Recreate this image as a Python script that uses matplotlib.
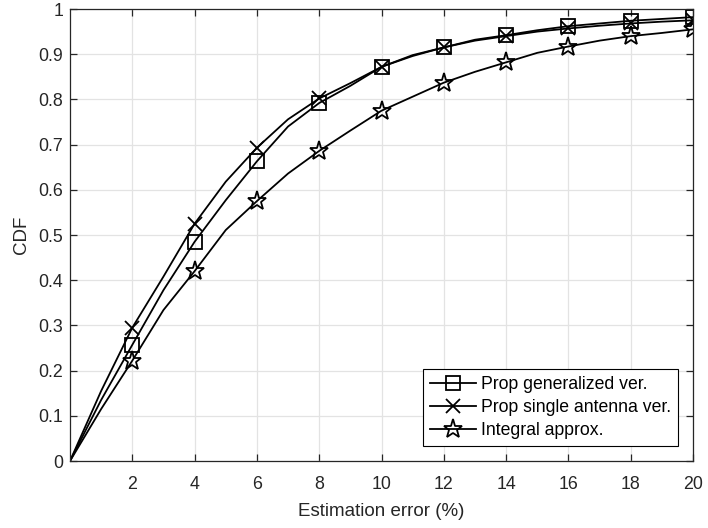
import matplotlib
matplotlib.use("Agg")
import matplotlib.pyplot as plt

x = list(range(0, 21))
prop_general = [0, 0.135, 0.257, 0.378, 0.485, 0.577, 0.663, 0.740, 0.792, 0.830, 0.872,
                0.896, 0.915, 0.932, 0.942, 0.953, 0.962, 0.968, 0.974, 0.978, 0.982]
prop_single = [0, 0.155, 0.295, 0.408, 0.525, 0.618, 0.693, 0.756, 0.802, 0.836, 0.872,
               0.898, 0.915, 0.930, 0.940, 0.950, 0.957, 0.963, 0.968, 0.972, 0.975]
integral = [0, 0.115, 0.222, 0.334, 0.420, 0.511, 0.575, 0.636, 0.686, 0.731, 0.775,
            0.806, 0.837, 0.861, 0.882, 0.903, 0.917, 0.930, 0.940, 0.947, 0.955]
labels = ["Prop generalized ver.", "Prop single antenna ver.", "Integral approx."]
xticks = [2, 4, 6, 8, 10, 12, 14, 16, 18, 20]
yticks = [0, 0.1, 0.2, 0.3, 0.4, 0.5, 0.6, 0.7, 0.8, 0.9, 1]
ytick_labels = ["0", "0.1", "0.2", "0.3", "0.4", "0.5", "0.6", "0.7", "0.8", "0.9", "1"]

plt.rcParams['font.family'] = ['Liberation Sans', 'DejaVu Sans']

fig = plt.figure(figsize=(7.08, 5.28), dpi=100)
ax = fig.add_axes([70/708, 67/528, 623/708, 452/528])

mk = slice(2, None, 2)
ax.plot(x, prop_general, color='k', lw=1.3, marker='s', ms=9.5, mfc='none', mew=1.3,
        markevery=mk, label=labels[0])
ax.plot(x, prop_single, color='k', lw=1.3, marker='x', ms=10, mew=1.3,
        markevery=mk, label=labels[1])
ax.plot(x, integral, color='k', lw=1.3, marker='*', ms=14, mfc='none', mew=1.3,
        markevery=mk, label=labels[2])

ax.set_xlim(0, 20)
ax.set_ylim(0, 1)
ax.set_xticks(xticks)
ax.set_xticklabels([str(t) for t in xticks])
ax.set_yticks(yticks)
ax.set_yticklabels(ytick_labels)
ax.grid(True, color='#e3e3e3', lw=0.9)
ax.set_axisbelow(True)
for s in ax.spines.values():
    s.set_color('#262626')
    s.set_linewidth(0.9)
ax.tick_params(direction='in', top=True, right=True, colors='#262626', labelsize=12.8,
               length=5, width=0.9)
ax.tick_params(axis='x', pad=11)
ax.tick_params(axis='y', pad=5)
ax.set_xlabel("Estimation error (%)", fontsize=13.5, color='#262626', labelpad=7)
ax.set_ylabel("CDF", fontsize=13.5, color='#262626', labelpad=6)

leg = ax.legend(loc='lower right', bbox_to_anchor=(608/623, 15/452), fontsize=12.7,
                fancybox=False, framealpha=1, edgecolor='k', borderpad=0.4,
                handlelength=2.6, handletextpad=0.3, labelspacing=0.33, borderaxespad=0)
leg.get_frame().set_linewidth(0.8)

fig.savefig("out.png", dpi=100)
